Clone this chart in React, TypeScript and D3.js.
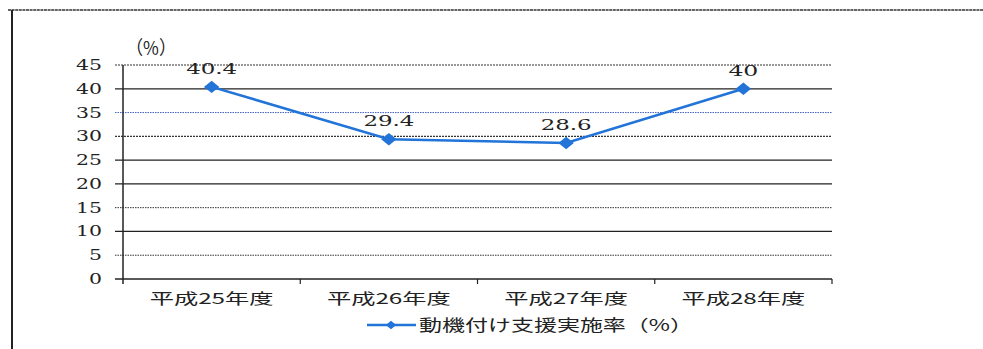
import React from "react";
import * as d3 from "d3";

const categories = ["平成25年度", "平成26年度", "平成27年度", "平成28年度"];
const rates = [40.4, 29.4, 28.6, 40];
const rateLabels = ["40.4", "29.4", "28.6", "40"];
const yTicks = [0, 5, 10, 15, 20, 25, 30, 35, 40, 45];
const seriesName = "動機付け支援実施率（%）";
const unitLabel = "（%）";

const W = 983;
const H = 349;
const plot = { left: 123, right: 832, top: 65, bottom: 279 };
const LINE = "#2274d8";

// Grid line styles per tick value
const gridStyle: Record<number, { dash?: string; color: string; width: number }> = {
  5: { dash: "1.5 1", color: "#333", width: 1 },
  10: { color: "#222", width: 1.2 },
  15: { dash: "1.5 1", color: "#333", width: 1 },
  20: { color: "#222", width: 1.2 },
  25: { color: "#222", width: 1.2 },
  30: { dash: "2 1", color: "#333", width: 1.2 },
  35: { dash: "1.5 1", color: "#4060c0", width: 1 },
  40: { color: "#222", width: 1.2 },
  45: { dash: "2 1", color: "#333", width: 1.2 },
};

// wide, stretched glyphs: width per digit / character
const digitW = 13;
const dotW = 8;
const numW = (s: string) =>
  s.split("").reduce((a, ch) => a + (ch === "." ? dotW : digitW), 0);

export default function App() {
  const x = d3.scaleBand<string>().domain(categories).range([plot.left, plot.right]);
  const y = d3.scaleLinear().domain([0, 45]).range([plot.bottom, plot.top]);
  const cx = (c: string) => (x(c) ?? 0) + x.bandwidth() / 2;

  const line = d3
    .line<number>()
    .x((_, i) => cx(categories[i]))
    .y((d) => y(d));

  // wide diamond: a square turned 45°, slightly flattened
  const square = d3.symbol().type(d3.symbolSquare);
  const marker = square.size(120)() ?? "";
  const legendMarker = square.size(55)() ?? "";

  const numFont = "'DejaVu Serif', 'Liberation Serif', serif";
  const jpFont = "'Noto Sans CJK JP', sans-serif";

  return (
    <svg
      width={W}
      height={H}
      style={{ position: "absolute", left: 0, top: 0, background: "#fff" }}
    >
      {/* frame */}
      <line x1={8} x2={W} y1={10} y2={10} stroke="#333" strokeWidth={1.6} strokeDasharray="3 0.6" />
      <line x1={12} x2={12} y1={10} y2={H} stroke="#222" strokeWidth={2} />

      {/* unit */}
      <text
        x={126}
        y={48}
        dy="0.36em"
        fontFamily={jpFont}
        fontSize={19}
        fill="#222"
        textLength={50}
        lengthAdjust="spacingAndGlyphs"
      >
        {unitLabel}
      </text>

      {/* grid lines and y ticks */}
      {yTicks.map((t) => {
        const s = gridStyle[t];
        const label = String(t);
        return (
          <g key={t}>
            {t > 0 && (
              <line
                x1={115}
                x2={plot.right}
                y1={y(t)}
                y2={y(t)}
                stroke={s.color}
                strokeWidth={s.width}
                strokeDasharray={s.dash}
              />
            )}
            <text
              x={102 - numW(label)}
              y={y(t)}
              dy="0.36em"
              fontFamily={numFont}
              fontSize={14}
              fill="#222"
              textLength={numW(label)}
              lengthAdjust="spacingAndGlyphs"
            >
              {label}
            </text>
          </g>
        );
      })}

      {/* axes */}
      <line x1={plot.left} x2={plot.left} y1={plot.top} y2={plot.bottom + 5} stroke="#222" strokeWidth={1.5} />
      <line x1={115} x2={plot.right} y1={plot.bottom} y2={plot.bottom} stroke="#222" strokeWidth={1.3} />
      {categories.map((c) => (
        <line
          key={c}
          x1={(x(c) ?? 0) + x.bandwidth()}
          x2={(x(c) ?? 0) + x.bandwidth()}
          y1={plot.bottom}
          y2={plot.bottom + 5}
          stroke="#222"
          strokeWidth={1.2}
        />
      ))}
      {categories.map((c) => (
        <text
          key={c}
          x={cx(c) - 62}
          y={304}
          fontFamily={jpFont}
          fontSize={15}
          fill="#222"
          textLength={124}
          lengthAdjust="spacingAndGlyphs"
        >
          {c}
        </text>
      ))}

      {/* series */}
      <path d={line(rates) ?? ""} fill="none" stroke={LINE} strokeWidth={2.6} />
      {rates.map((v, i) => (
        <path
          key={i}
          d={marker}
          transform={`translate(${cx(categories[i])},${y(v)}) scale(1,0.8) rotate(45)`}
          fill={LINE}
        />
      ))}
      {rates.map((v, i) => {
        const w = numW(rateLabels[i]) + 4;
        return (
          <text
            key={i}
            x={cx(categories[i]) - w / 2}
            y={y(v) - 13}
            fontFamily={numFont}
            fontSize={14}
            fill="#222"
            textLength={w}
            lengthAdjust="spacingAndGlyphs"
          >
            {rateLabels[i]}
          </text>
        );
      })}

      {/* legend */}
      <line x1={367} x2={416} y1={325} y2={325} stroke={LINE} strokeWidth={2.6} />
      <path d={legendMarker} transform="translate(391,325) scale(1,0.8) rotate(45)" fill={LINE} />
      <text
        x={419}
        y={325}
        dy="0.36em"
        fontFamily={jpFont}
        fontSize={16}
        fill="#222"
        textLength={274}
        lengthAdjust="spacingAndGlyphs"
      >
        {seriesName}
      </text>
    </svg>
  );
}
